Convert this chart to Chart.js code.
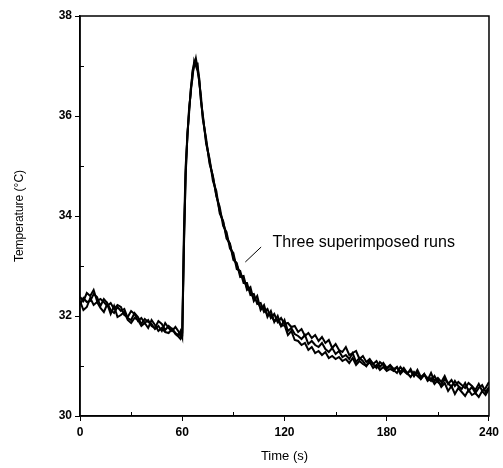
<!DOCTYPE html>
<html>
<head>
<meta charset="utf-8">
<script src="https://cdn.jsdelivr.net/npm/chart.js@4.4.0/dist/chart.umd.min.js"></script>
<style>
  html, body { margin: 0; padding: 0; background: #fff; }
  #wrap { width: 503px; height: 468px; }
</style>
</head>
<body>
<div id="wrap"><canvas id="tempChart" width="503" height="468"></canvas></div>
<script>
// Sample times (s) shared by the three runs; denser around the heat pulse
const times = [
  0,2,4,6,8,10,12,14,16,18,20,22,24,26,28,30,32,34,36,38,40,42,44,46,48,50,52,54,56,58,
  59,60,61,62,63,64,65,66,67,68,69,70,71,72,
  74,76,78,80,82,84,86,88,90,92,94,96,98,100,102,104,106,108,110,112,114,116,118,120,
  122,124,126,128,130,132,134,136,138,140,142,144,146,148,150,152,154,156,158,160,162,164,166,168,170,172,174,176,178,180,
  182,184,186,188,190,192,194,196,198,200,202,204,206,208,210,212,214,216,218,220,222,224,226,228,230,232,234,236,238,240
];

// Temperature (°C) for each run
const runA = [
  32.38,32.30,32.46,32.40,32.52,32.30,32.34,32.28,32.20,32.26,32.14,32.22,32.18,32.02,31.98,32.10,32.04,31.90,31.96,31.86,31.92,31.80,31.76,31.90,31.84,31.72,31.80,31.74,31.66,31.62,
  31.70,31.58,33.5,34.8,35.6,36.1,36.5,36.85,37.0,37.15,36.95,36.75,36.3,36.05,
  35.45,35.15,34.7,34.5,34.05,33.9,33.55,33.45,33.12,33.06,32.78,32.8,32.52,32.58,32.3,32.4,32.12,32.22,31.98,32.1,31.88,32.0,31.8,31.92,
  31.7,31.76,31.64,31.6,31.54,31.62,31.44,31.5,31.42,31.38,31.46,31.34,31.28,31.36,31.24,31.3,31.18,31.22,31.14,31.26,31.08,31.16,31.1,31.0,31.12,31.04,30.96,31.08,31.02,30.94,
  31.0,30.92,30.86,30.98,30.9,30.84,30.94,30.8,30.88,30.74,30.82,30.76,30.7,30.8,30.68,30.62,30.74,30.66,30.58,30.7,30.6,30.54,30.66,30.5,30.58,30.46,30.56,30.62,30.48,30.58
];
const runB = [
  32.22,32.36,32.28,32.30,32.44,32.38,32.20,32.34,32.26,32.12,32.06,32.18,32.10,32.14,31.96,31.92,32.06,31.98,31.84,31.94,31.88,31.84,31.74,31.80,31.70,31.86,31.76,31.70,31.78,31.68,
  31.60,31.66,33.7,35.0,35.55,36.15,36.45,36.9,37.05,37.05,37.05,36.65,36.4,35.95,
  35.55,35.05,34.8,34.4,34.18,33.8,33.68,33.35,33.26,32.94,32.9,32.66,32.66,32.42,32.44,32.24,32.26,32.08,32.14,31.96,32.04,31.88,31.96,31.84,
  31.86,31.78,31.8,31.68,31.74,31.6,31.66,31.56,31.62,31.5,31.58,31.46,31.52,31.36,31.44,31.32,31.28,31.38,31.22,31.26,31.3,31.14,31.2,31.08,31.14,31.04,31.1,30.98,31.06,30.96,
  31.02,30.94,30.98,30.88,30.96,30.86,30.9,30.8,30.92,30.78,30.84,30.72,30.86,30.7,30.76,30.68,30.8,30.64,30.72,30.6,30.68,30.62,30.56,30.66,30.6,30.52,30.64,30.5,30.56,30.68
];
const runC = [
  32.30,32.12,32.18,32.36,32.22,32.28,32.16,32.08,32.24,32.04,32.20,31.98,32.02,32.08,31.92,31.86,31.96,31.92,31.80,31.86,31.76,31.92,31.82,31.70,31.76,31.68,31.66,31.74,31.64,31.58,
  31.54,31.60,33.4,34.85,35.65,36.05,36.55,36.75,37.1,37.0,36.9,36.7,36.3,36.0,
  35.5,35.1,34.78,34.42,34.1,33.88,33.6,33.42,33.18,33.02,32.84,32.74,32.56,32.5,32.34,32.3,32.16,32.16,32.02,32.02,31.9,31.92,31.8,31.82,
  31.62,31.7,31.52,31.5,31.42,31.46,31.32,31.38,31.26,31.3,31.22,31.28,31.16,31.2,31.14,31.18,31.1,31.14,31.06,31.16,31.02,31.1,31.04,31.0,31.08,30.96,31.02,30.92,30.98,30.9,
  30.94,30.9,30.98,30.84,30.92,30.86,30.78,30.88,30.8,30.74,30.84,30.7,30.76,30.64,30.72,30.58,30.66,30.5,30.6,30.44,30.56,30.48,30.4,30.52,30.42,30.46,30.38,30.5,30.42,30.54
];

// Axis ticks
const xMajor = [0, 60, 120, 180, 240];
const xMinor = [30, 90, 150, 210];
const yMajor = [30, 32, 34, 36, 38];
const yMinor = [31, 33, 35, 37];

// Annotation in data units
const noteText = 'Three superimposed runs';
const notePos = { x: 113, y: 33.46 };
const noteLine = [{ x: 106.3, y: 33.38 }, { x: 97, y: 33.08 }];

const tickFont = { family: 'Liberation Sans', size: 12, weight: 'bold' };
const titleFont = { family: 'Liberation Sans', size: 13 };

function toPoints(vals) {
  return times.map((t, i) => ({ x: t, y: vals[i] }));
}

// Frame, inward minor ticks and the label
const framePlugin = {
  id: 'frame',
  afterDraw(chart) {
    const { ctx, chartArea: a, scales: { x, y } } = chart;
    ctx.save();
    ctx.strokeStyle = '#000';
    ctx.lineWidth = 1.5;
    ctx.strokeRect(a.left, a.top, a.right - a.left, a.bottom - a.top);

    ctx.lineWidth = 1;
    ctx.beginPath();
    yMinor.forEach(v => {
      const py = Math.round(y.getPixelForValue(v)) + 0.5;
      ctx.moveTo(a.left, py);
      ctx.lineTo(a.left + 4, py);
    });
    xMinor.forEach(v => {
      const px = Math.round(x.getPixelForValue(v)) + 0.5;
      ctx.moveTo(px, a.bottom);
      ctx.lineTo(px, a.bottom - 4);
    });
    ctx.stroke();

    ctx.beginPath();
    ctx.moveTo(x.getPixelForValue(noteLine[0].x), y.getPixelForValue(noteLine[0].y));
    ctx.lineTo(x.getPixelForValue(noteLine[1].x), y.getPixelForValue(noteLine[1].y));
    ctx.stroke();

    ctx.fillStyle = '#000';
    ctx.font = '16px "Liberation Sans"';
    ctx.textBaseline = 'middle';
    ctx.fillText(noteText, x.getPixelForValue(notePos.x), y.getPixelForValue(notePos.y));
    ctx.restore();
  }
};

document.addEventListener('DOMContentLoaded', function() {
  const ctx = document.getElementById('tempChart');
  const lineStyle = {
    borderColor: '#000',
    borderWidth: 2,
    pointRadius: 0,
    tension: 0,
    fill: false
  };

  new Chart(ctx, {
    type: 'line',
    data: {
      datasets: [
        Object.assign({ label: 'Run 1', data: toPoints(runA) }, lineStyle),
        Object.assign({ label: 'Run 2', data: toPoints(runB) }, lineStyle),
        Object.assign({ label: 'Run 3', data: toPoints(runC) }, lineStyle)
      ]
    },
    options: {
      responsive: false,
      animation: false,
      devicePixelRatio: 1,
      layout: { padding: { top: 16, right: 10, left: 0, bottom: 0 } },
      plugins: {
        legend: { display: false },
        tooltip: { enabled: false }
      },
      scales: {
        x: {
          type: 'linear',
          min: 0,
          max: 240,
          afterBuildTicks(scale) {
            scale.ticks = xMajor.map(v => ({ value: v }));
          },
          afterFit(scale) { scale.height = 52; },
          grid: { drawOnChartArea: false, drawTicks: true, tickLength: 5, color: '#000' },
          border: { display: true, color: '#000', width: 1.5 },
          ticks: { color: '#000', font: tickFont, padding: 4, maxRotation: 0 },
          title: { display: true, text: 'Time (s)', color: '#000', font: titleFont, padding: { top: 12 } }
        },
        y: {
          type: 'linear',
          min: 30,
          max: 38,
          afterBuildTicks(scale) {
            scale.ticks = yMajor.map(v => ({ value: v }));
          },
          afterFit(scale) { scale.width = 80; },
          grid: { drawOnChartArea: false, drawTicks: true, tickLength: 5, color: '#000' },
          border: { display: true, color: '#000', width: 1.5 },
          ticks: { color: '#000', font: tickFont, padding: 3 },
          title: { display: true, text: 'Temperature (°C)', color: '#000', font: { family: 'Liberation Sans', size: 12 }, padding: { bottom: 0, top: 12 } }
        }
      }
    },
    plugins: [framePlugin]
  });
});
</script>
</body>
</html>
